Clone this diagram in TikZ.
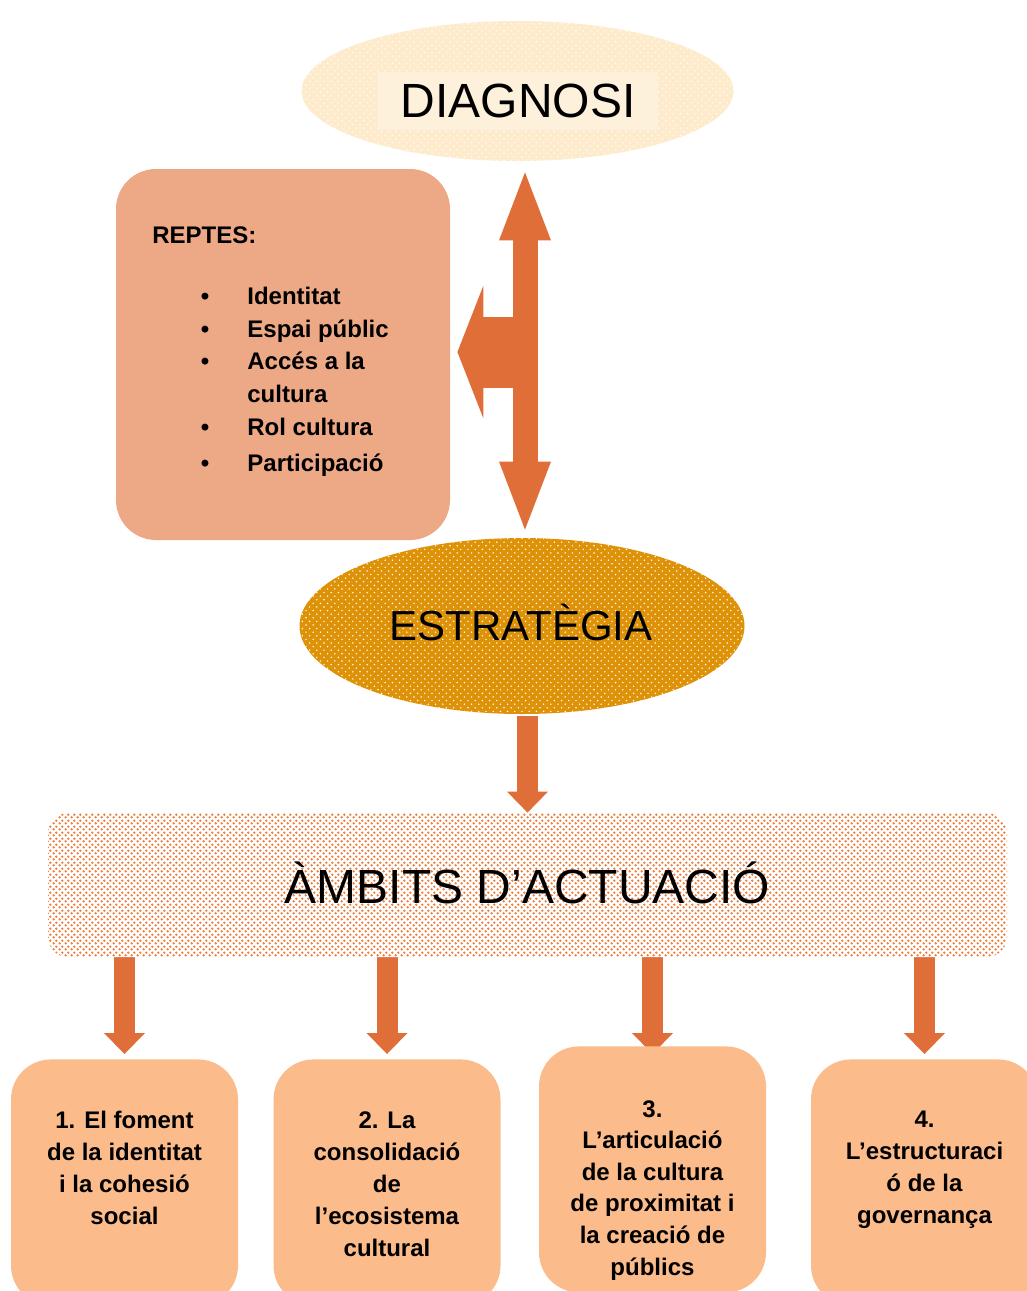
\documentclass[tikz,border=0pt]{standalone}
\usepackage{fontspec}
\setmainfont{Liberation Sans}
\usetikzlibrary{arrows.meta,shapes.geometric,patterns,positioning,backgrounds}
\definecolor{taronja}{HTML}{E06E38}
\definecolor{salmo}{HTML}{EDA886}
\definecolor{preseg}{HTML}{FBBB8B}
\definecolor{daurat}{HTML}{DE9208}
\definecolor{crema}{HTML}{FDEBCB}
\definecolor{cremaclar}{HTML}{FEF1DC}
\definecolor{punts}{HTML}{EC8140}
% punts propis
\pgfdeclarepatternformonly{puntsdens}{\pgfqpoint{-1pt}{-1pt}}{\pgfqpoint{2pt}{2pt}}{\pgfqpoint{3pt}{3pt}}{
	\pgfpathcircle{\pgfqpoint{0pt}{0pt}}{0.75pt}
	\pgfpathcircle{\pgfqpoint{1.5pt}{1.5pt}}{0.75pt}
	\pgfusepath{fill}
}
\pgfdeclarepatternformonly{puntsclars}{\pgfqpoint{-1pt}{-1pt}}{\pgfqpoint{3pt}{3pt}}{\pgfqpoint{3.6pt}{3.6pt}}{
	\pgfpathcircle{\pgfqpoint{0pt}{0pt}}{0.4pt}
	\pgfpathcircle{\pgfqpoint{1.8pt}{1.8pt}}{0.4pt}
	\pgfusepath{fill}
}
\tikzset{
  fletxa/.style={draw=taronja, line width=10.5pt, -{Triangle[width=20.5pt,length=10.5pt,line width=0pt]}},
  caixa/.style={rectangle, rounded corners=20pt, fill=preseg, minimum width=113.5pt, minimum height=123pt, anchor=north, inner sep=0pt},
  textcaixa/.style={font=\fontsize{12pt}{16pt}\bfseries\selectfont, align=center, inner sep=0pt, anchor=north},
  item/.style={font=\fontsize{12pt}{14pt}\bfseries\selectfont, inner sep=0pt}
}
\begin{document}
\begin{tikzpicture}[x=0.5pt, y=-0.5pt, line join=round]
	\useasboundingbox (0,0) rectangle (1027,1291);
	\clip (0,0) rectangle (1027,1291);
	% el·lipses
	\node[ellipse, inner sep=0pt, minimum width=216pt, minimum height=70pt, preaction={fill=crema}, pattern=puntsclars, pattern color=white] (diag) at (517.5,91) {};
	\node[fill=cremaclar, minimum width=140pt, minimum height=29pt, inner sep=0pt, font=\fontsize{24pt}{28pt}\selectfont] (diagtxt) at (518,101) {DIAGNOSI};
	\node[ellipse, inner sep=0pt, minimum width=222.5pt, minimum height=88pt, preaction={fill=daurat}, pattern=puntsclars, pattern color=white] (estr) at (522,626) {};
	\node[anchor=base, inner sep=0pt, font=\fontsize{21pt}{25pt}\selectfont] (estrtxt) at (521,640) {ESTRATÈGIA};
	% reptes
	\node[rectangle, rounded corners=20pt, fill=salmo, minimum width=167pt, minimum height=185.5pt, inner sep=0pt] (rep) at (283,354.5) {};
	\node[item, anchor=base west] (reptit) at (152,243) {REPTES:};
	\foreach \y/\t [count=\i] in {304/Identitat,337/Espai públic,369/Accés a la,435/Rol cultura,471/Participació}{
		\node[item, anchor=base] (bul\i) at (205,\y) {\textbullet};
		\node[item, anchor=base west] (it\i) at (247,\y) {\t};
	}
	\node[item, anchor=base west] (it3b) at (247,402) {cultura};
	% fletxes de dalt
	\draw[draw=taronja, line width=12.5pt, {Triangle[width=26pt,length=34pt,line width=0pt]}-{Triangle[width=26pt,length=34pt,line width=0pt]}] ([xshift=3.75pt,yshift=-5.5pt]diag.south) -- ([xshift=1.5pt,yshift=4pt]estr.north);
	\coordinate (branca) at (525,352);
	\draw[draw=taronja, line width=35.5pt, -{Triangle[width=66.5pt,length=13pt,line width=0pt]}, shorten >=3.5pt] (branca) -- (branca -| rep.east);
	% ambits
	\node[rectangle, rounded corners=10pt, minimum width=479.5pt, minimum height=72pt, inner sep=0pt, preaction={fill=white}, pattern=puntsdens, pattern color=punts] (amb) at (527.5,885) {};
	\node[anchor=base, inner sep=0pt, font=\fontsize{24pt}{28pt}\selectfont] (ambtxt) at (527.5,903) {ÀMBITS D’ACTUACIÓ};
	\coordinate (e1) at ([xshift=2.75pt,yshift=-1pt]estr.south);
	\draw[fletxa] (e1) -- (e1 |- amb.north);
	% caixes de baix
	\foreach \x/\t/\s [count=\i] in {124.5/1059/2.5, 387/1059/2.5, 652.5/1046/-4, 924.5/1059/2.5}{
		\node[caixa] (b\i) at (\x,\t) {};
		\begin{scope}[on background layer]
			\draw[fletxa, shorten >=\s pt] (amb.south -| b\i.north) -- (b\i.north);
		\end{scope}
	}
	\node[textcaixa, below=26pt of b1.north] (t1) {1. El foment\\de la identitat\\i la cohesió\\social};
	\node[textcaixa, below=26pt of b2.north] (t2) {2. La\\consolidació\\de\\l’ecosistema\\cultural};
	\node[textcaixa, below=27pt of b3.north, font=\fontsize{12pt}{15.8pt}\bfseries\selectfont] (t3) {3.\\L’articulació\\de la cultura\\de proximitat i\\la creació de\\públics};
	\node[textcaixa, below=26pt of b4.north] (t4) {4.\\L’estructuraci\\ó de la\\governança};
\end{tikzpicture}
\end{document}
